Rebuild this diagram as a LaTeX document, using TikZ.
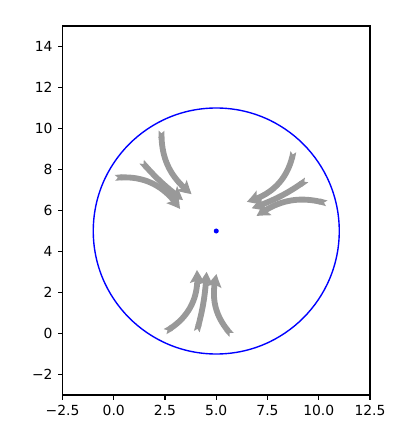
\documentclass[tikz,border=0pt]{standalone}
\usepackage{fontspec}
\setmainfont{DejaVu Sans}
\usepackage{xcolor}
\usetikzlibrary{arrows.meta,bending}

\begin{document}
\begin{tikzpicture}[x=14.76pt,y=14.76pt,
flow/.style={draw=gray!80,line width=4.2pt,
  {Triangle Cap[reversed]}-{Stealth[length=9.5pt,width=10.5pt,inset=2pt,bend]}},
spine/.style={line width=0.8pt,line cap=rect},
tk/.style={line width=0.8pt},
lbl/.style={inner sep=0pt,font=\fontsize{10}{12}\selectfont}]
\useasboundingbox (-5.549,-5.146) rectangle (14.256,16.268);
% circle and centre
\draw[blue,line width=1pt] (5,5) circle (6);
\node[circle,fill=blue,inner sep=0pt,minimum size=3.6pt] (ctr) at (5,5) {};
% curved arrows towards the centre
\foreach \n/\tx/\ty/\hx/\hy/\b in {
  a/2.33/9.90/3.80/6.80/-27, b/1.36/8.38/3.38/6.51/-6, c/0.06/7.59/3.23/6.07/32,
  d/8.76/8.87/6.49/6.43/33, e/9.41/7.49/6.73/6.11/8, f/10.39/6.35/6.97/5.73/-26,
  g/2.50/0.09/4.05/3.10/-34, h/4.05/0.09/4.53/3.01/-6, i/5.75/-0.07/5.02/2.90/29}{
  \coordinate (t\n) at (\tx,\ty);
  \coordinate (h\n) at (\hx,\hy);
  \draw[flow] (t\n) to[bend left=\b] (h\n);
}
% axes
\draw[spine] (-2.5,-3) rectangle (12.5,15);
\foreach \x/\t in {-2.5/−2.5,0/0.0,2.5/2.5,5/5.0,7.5/7.5,10/10.0,12.5/12.5}{
  \draw[tk] (\x,-3) -- ++(0,-3.5pt);
  \node[lbl,anchor=north] (x\x) at ([yshift=-7pt]\x,-3) {\t};
}
\foreach \y/\t in {-2/−2,0/0,2/2,4/4,6/6,8/8,10/10,12/12,14/14}{
  \draw[tk] (-2.5,\y) -- ++(-3.5pt,0);
  \node[lbl,anchor=east] (y\y) at ([xshift=-7pt]-2.5,\y) {\t};
}
\end{tikzpicture}
\end{document}
